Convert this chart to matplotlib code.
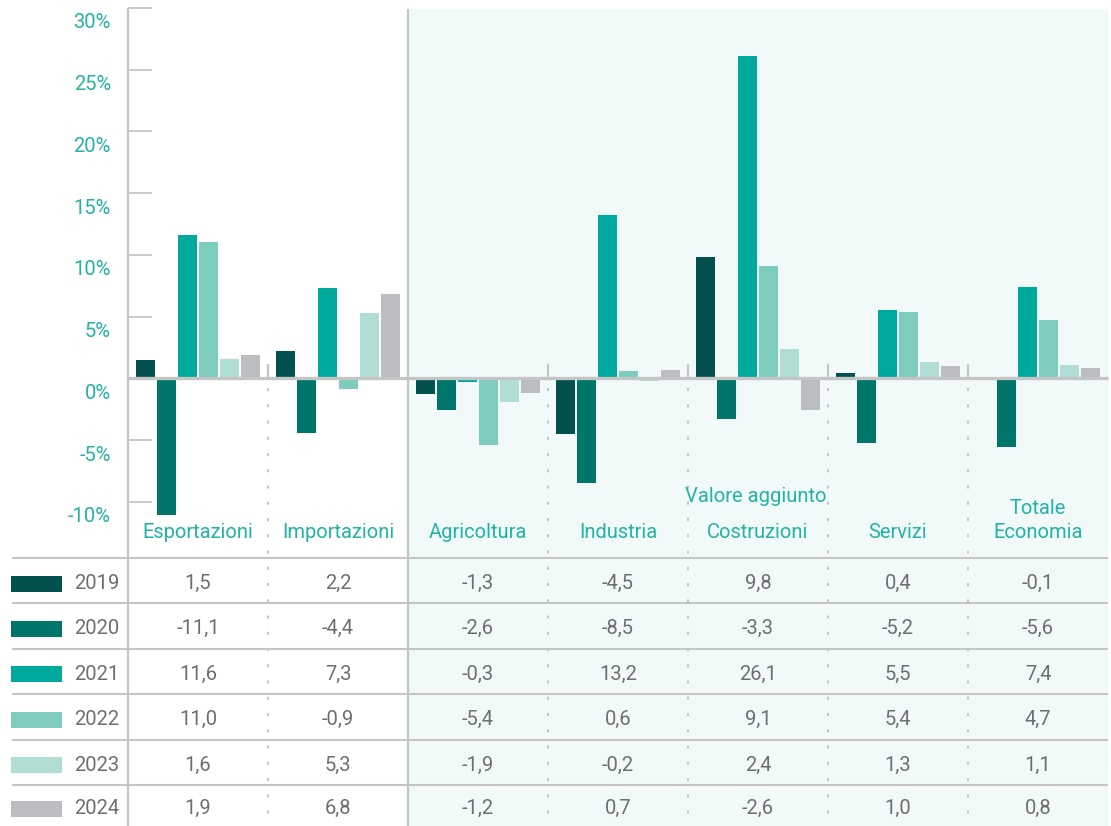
import matplotlib
matplotlib.use("Agg")
import matplotlib.pyplot as plt
from matplotlib.patches import Rectangle

plt.rcParams['font.family'] = ['Roboto', 'DejaVu Sans']
plt.rcParams['lines.scale_dashes'] = False

# ---------------- data ----------------
categories = ['Esportazioni', 'Importazioni', 'Agricoltura', 'Industria',
              'Costruzioni', 'Servizi', 'Totale\nEconomia']
years = ['2019', '2020', '2021', '2022', '2023', '2024']
v2019 = [1.5, 2.2, -1.3, -4.5, 9.8, 0.4, -0.1]
v2020 = [-11.1, -4.4, -2.6, -8.5, -3.3, -5.2, -5.6]
v2021 = [11.6, 7.3, -0.3, 13.2, 26.1, 5.5, 7.4]
v2022 = [11.0, -0.9, -5.4, 0.6, 9.1, 5.4, 4.7]
v2023 = [1.6, 5.3, -1.9, -0.2, 2.4, 1.3, 1.1]
v2024 = [1.9, 6.8, -1.2, 0.7, -2.6, 1.0, 0.8]
series = [v2019, v2020, v2021, v2022, v2023, v2024]
yticks = [-10, -5, 0, 5, 10, 15, 20, 25, 30]
group_title = 'Valore aggiunto'

colors = ['#03514F', '#00756A', '#00A99D', '#7DCCBD', '#B1DED4', '#BCBDC0']
teal_txt = '#22B3A5'
gray_txt = '#6D6E71'
line_col = '#C4C5C7'
bg_col = '#F2FAF9'

# ---------------- layout helpers (pixel -> data) ----------------
W, H = 1111, 826
Y0 = 378.3      # pixel row of 0%
PPU = 12.35     # pixels per percent
CW = 140.0      # category width in px
XL = 128.0      # left axis pixel


def Y(py):
    return (Y0 - py) / PPU


def X(px):
    return (px - XL) / CW - 0.5


fig = plt.figure(figsize=(W / 100, H / 100), dpi=100)
ax = fig.add_axes([XL / W, 0, (7 * CW) / W, (H - 8.3) / H])
ax.set_xlim(-0.5, 6.5)
ax.set_ylim(Y(H), Y(8.3))
ax.axis('off')

FS = 14.5
FW = 'normal'

# background for value-added block
ax.add_patch(Rectangle((1.5, Y(H)), 5.0, Y(9) - Y(H), facecolor=bg_col,
                       edgecolor='none', zorder=0, clip_on=False))

# bars
xs = list(range(len(categories)))
for j, (vals, c) in enumerate(zip(series, colors)):
    ax.bar([x + (j - 2.5) * 0.15 for x in xs], vals, width=19 / CW,
           color=c, zorder=2, linewidth=0)

# zero line
ax.plot([-0.5, 6.5], [0, 0], color=line_col, lw=2.4, zorder=3,
        solid_capstyle='butt', clip_on=False)

# y axis line and ticks
ax.plot([-0.5, -0.5], [Y(8), Y(H)], color=line_col, lw=1.6, zorder=3,
        solid_capstyle='butt', clip_on=False)
for t in yticks:
    if t != 0:
        ax.plot([X(XL), X(152)], [t, t], color=line_col, lw=1.3, zorder=3,
                solid_capstyle='butt', clip_on=False)
    ax.text(X(111), t - 15 / PPU, f"{t}%", ha='right', va='center',
            color=teal_txt, fontsize=FS, fontweight=FW, clip_on=False)

# separators
ax.plot([1.5, 1.5], [Y(9), Y(H)], color=line_col, lw=1.6, zorder=3,
        solid_capstyle='butt', clip_on=False)
for sx in [0.5, 2.5, 3.5, 4.5, 5.5]:
    ax.plot([sx, sx], [Y(364), 0], color=line_col, lw=1.6, zorder=3,
            solid_capstyle='butt')
    ax.plot([sx, sx], [Y(388), Y(H)], color=line_col, lw=1.4, zorder=3,
            dashes=(2.2, 9.5), solid_capstyle='butt', clip_on=False)

# category labels
for x, lab in zip(xs, categories):
    lines = lab.split('\n')
    n = len(lines)
    for k, ln in enumerate(lines):
        py = 533 - 24 * (n - 1 - k)
        ax.text(x, Y(py), ln, ha='center', va='center', color=teal_txt,
                fontsize=FS, fontweight=FW)
ax.text(X(756), Y(497), group_title, ha='center', va='center',
        color=teal_txt, fontsize=FS, fontweight=FW)

# table
row_lines = [558, 603, 648.5, 694, 739.5, 785]
row_bottoms = row_lines[1:] + [H]
for p in row_lines:
    ax.plot([X(12), X(1108)], [Y(p), Y(p)], color=line_col, lw=1.5,
            zorder=3, solid_capstyle='butt', clip_on=False)

for i, (yr, vals, c) in enumerate(zip(years, series, colors)):
    top, bot = row_lines[i], row_bottoms[i]
    cy = (top + bot) / 2 + 3
    ax.add_patch(Rectangle((X(11), Y(cy + 8)), (62 - 11) / CW, 16 / PPU,
                           facecolor=c, edgecolor='none', clip_on=False,
                           zorder=3))
    ax.text(X(74), Y(cy), yr, ha='left', va='center', color=gray_txt,
            fontsize=FS, fontweight=FW, clip_on=False)
    for x, v in zip(xs, vals):
        ax.text(x, Y(cy), f"{v:.1f}".replace('.', ','), ha='center',
                va='center', color=gray_txt, fontsize=FS, fontweight=FW)

fig.savefig('out.png', dpi=100)
